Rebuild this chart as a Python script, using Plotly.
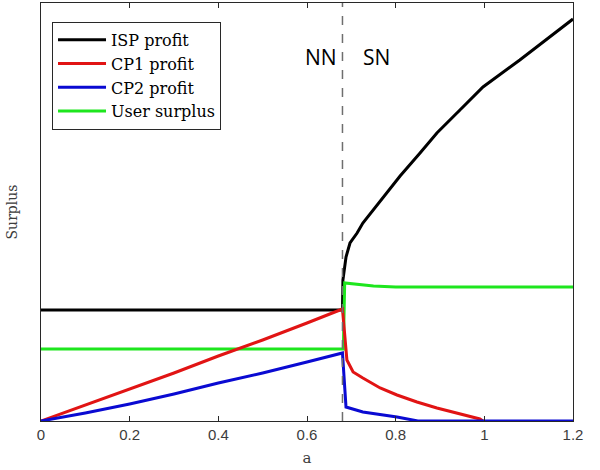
import plotly.graph_objects as go

# ---- data (y in arbitrary surplus units) ----
boundary_a = 0.68

isp_x = [0, 0.68, 0.681, 0.688, 0.697, 0.713, 0.726, 0.749, 0.771, 0.79, 0.81, 0.855, 0.893, 0.945, 0.997, 1.08, 1.2]
isp_y = [1.11, 1.11, 1.41, 1.64, 1.78, 1.88, 1.98, 2.11, 2.23, 2.34, 2.45, 2.68, 2.88, 3.11, 3.34, 3.61, 4.02]

cp1_x = [0, 0.1, 0.2, 0.3, 0.4, 0.5, 0.6, 0.68, 0.69, 0.704, 0.726, 0.765, 0.803, 0.848, 0.893, 0.952, 0.99, 0.997]
cp1_y = [0, 0.16, 0.32, 0.48, 0.65, 0.81, 0.98, 1.12, 0.61, 0.49, 0.43, 0.33, 0.26, 0.19, 0.13, 0.06, 0.02, 0.0]

cp2_x = [0, 0.1, 0.2, 0.3, 0.4, 0.5, 0.6, 0.68, 0.688, 0.726, 0.803, 0.85, 1.2]
cp2_y = [0, 0.08, 0.17, 0.27, 0.38, 0.48, 0.59, 0.68, 0.14, 0.09, 0.04, 0.0, 0.0]

user_x = [0, 0.682, 0.685, 0.75, 0.8, 1.2]
user_y = [0.72, 0.72, 1.38, 1.35, 1.34, 1.34]

x_ticks = [0, 0.2, 0.4, 0.6, 0.8, 1, 1.2]
x_tick_labels = ["0", "0.2", "0.4", "0.6", "0.8", "1", "1.2"]

series = [
    ("ISP profit", isp_x, isp_y, "rgb(0,0,0)"),
    ("CP1 profit", cp1_x, cp1_y, "rgb(225,20,20)"),
    ("CP2 profit", cp2_x, cp2_y, "rgb(10,10,210)"),
    ("User surplus", user_x, user_y, "rgb(30,230,30)"),
]

fig = go.Figure()
for name, xs, ys, col in [series[0], series[3], series[1], series[2]]:
    fig.add_trace(go.Scatter(x=xs, y=ys, mode="lines", name=name,
                             line=dict(color=col, width=3), showlegend=False))
for name, xs, ys, col in series:
    fig.add_trace(go.Scatter(x=[None], y=[None], mode="lines", name=name,
                             line=dict(color=col, width=3)))

fig.add_shape(type="line", x0=boundary_a, x1=boundary_a, xref="x",
              y0=0, y1=1, yref="paper",
              line=dict(color="rgb(110,110,110)", width=1.5, dash="dash"))

fig.add_annotation(x=0.632, y=3.64, xref="x", yref="y", text="NN", showarrow=False,
                   font=dict(family="Open Sans", size=21, color="black"))
fig.add_annotation(x=0.756, y=3.64, xref="x", yref="y", text="SN", showarrow=False,
                   font=dict(family="Open Sans", size=21, color="black"))

fig.update_layout(
    width=600, height=470,
    margin=dict(l=41, r=27, t=3, b=49),
    paper_bgcolor="white", plot_bgcolor="white",
    showlegend=True,
    legend=dict(x=0.0207, y=0.955, xanchor="left", yanchor="top",
                bgcolor="white", bordercolor="rgb(40,40,40)", borderwidth=1,
                font=dict(family="DejaVu Serif", size=16, color="black"),
                itemwidth=48, tracegroupgap=0),
)
fig.update_xaxes(range=[0, 1.2], tickvals=x_ticks, ticktext=x_tick_labels,
                 showgrid=False, zeroline=False, showline=True, mirror="ticks",
                 linecolor="rgb(40,40,40)", linewidth=1,
                 ticks="inside", ticklen=5, tickcolor="rgb(40,40,40)",
                 tickfont=dict(family="Liberation Sans", size=15, color="rgb(60,60,60)"),
                 title=dict(text="a", font=dict(family="DejaVu Serif", size=15, color="rgb(60,60,60)"), standoff=10))
fig.update_yaxes(range=[0, 4.18], showticklabels=False, ticks="",
                 showgrid=False, zeroline=False, showline=True, mirror=True,
                 linecolor="rgb(40,40,40)", linewidth=1,
                 title=dict(text="Surplus", font=dict(family="DejaVu Serif", size=14, color="rgb(60,60,60)"), standoff=19))

fig.write_html("out.html", post_script="document.body.style.margin='0px';",
               config={"displayModeBar": False})
